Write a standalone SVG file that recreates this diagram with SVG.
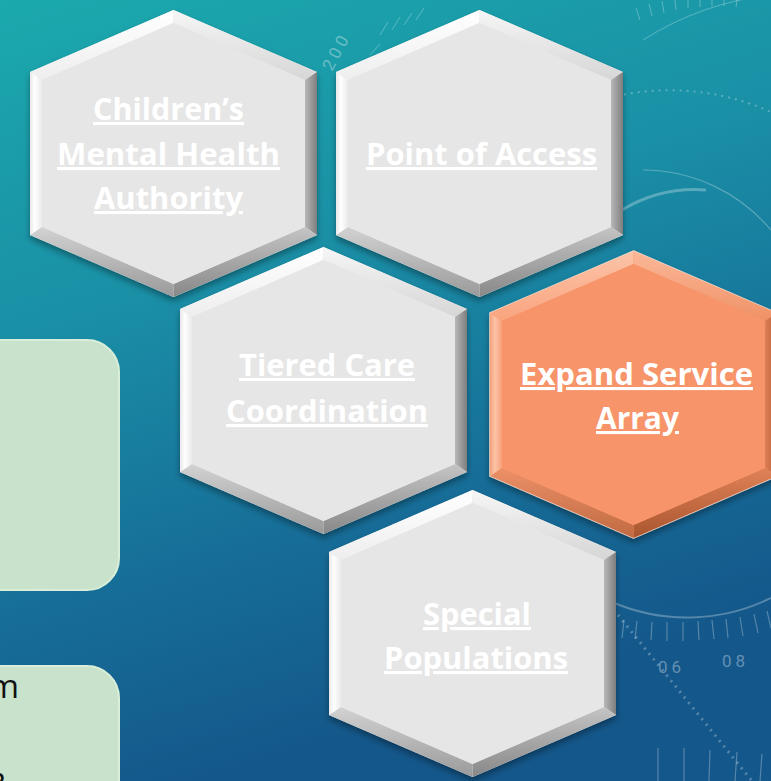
<svg xmlns="http://www.w3.org/2000/svg" xmlns:xlink="http://www.w3.org/1999/xlink" width="771" height="781" viewBox="0 0 771 781">
  <defs>
    <linearGradient id="bg" x1="0" y1="0" x2="0.3" y2="1">
      <stop offset="0" stop-color="#1ba9ad"/>
      <stop offset="0.4" stop-color="#1a8fa6"/>
      <stop offset="0.75" stop-color="#166c97"/>
      <stop offset="1" stop-color="#14578a"/>
    </linearGradient>
    <linearGradient id="gTL" x1="0" y1="0" x2="0" y2="1"><stop offset="0" stop-color="#ffffff"/><stop offset="1" stop-color="#eeeeee"/></linearGradient>
    <linearGradient id="gTR" x1="0" y1="0" x2="0" y2="1"><stop offset="0" stop-color="#f6f6f6"/><stop offset="1" stop-color="#d6d6d6"/></linearGradient>
    <linearGradient id="gR" x1="1" y1="0" x2="0" y2="0"><stop offset="0" stop-color="#7e7e7e"/><stop offset="1" stop-color="#b8b8b8"/></linearGradient>
    <linearGradient id="gBR" x1="0" y1="0" x2="0" y2="1"><stop offset="0" stop-color="#c4c4c4"/><stop offset="1" stop-color="#888888"/></linearGradient>
    <linearGradient id="gBL" x1="0" y1="0" x2="0" y2="1"><stop offset="0" stop-color="#d2d2d2"/><stop offset="1" stop-color="#9a9a9a"/></linearGradient>
    <linearGradient id="gL" x1="0" y1="0" x2="1" y2="0"><stop offset="0" stop-color="#e8e8e8"/><stop offset="0.4" stop-color="#ffffff"/><stop offset="1" stop-color="#eaeaea"/></linearGradient>

    <linearGradient id="oTL" x1="0" y1="0" x2="0" y2="1"><stop offset="0" stop-color="#fcc4a8"/><stop offset="1" stop-color="#f9a47e"/></linearGradient>
    <linearGradient id="oTR" x1="0" y1="0" x2="0" y2="1"><stop offset="0" stop-color="#fbb898"/><stop offset="1" stop-color="#ef9166"/></linearGradient>
    <linearGradient id="oR" x1="1" y1="0" x2="0" y2="0"><stop offset="0" stop-color="#b45c34"/><stop offset="1" stop-color="#de8058"/></linearGradient>
    <linearGradient id="oBR" x1="0" y1="0" x2="0" y2="1"><stop offset="0" stop-color="#e08258"/><stop offset="1" stop-color="#a9552f"/></linearGradient>
    <linearGradient id="oBL" x1="0" y1="0" x2="0" y2="1"><stop offset="0" stop-color="#ec9068"/><stop offset="1" stop-color="#c06a42"/></linearGradient>
    <linearGradient id="oL" x1="0" y1="0" x2="1" y2="0"><stop offset="0" stop-color="#f4a07a"/><stop offset="0.4" stop-color="#fcc3a6"/><stop offset="1" stop-color="#f7a07a"/></linearGradient>

    <filter id="shadow" x="-10%" y="-10%" width="120%" height="125%">
      <feDropShadow dx="0" dy="4" stdDeviation="3" flood-color="#000" flood-opacity="0.35"/>
    </filter>

    <g id="hexGray">
      <polygon points="0,0 143.5,62 143.5,225 0,287 -143.5,225 -143.5,62" fill="#e6e6e6"/>
      <polygon points="-143.5,62 0,0 0,13 -131.5,69.9" fill="url(#gTL)"/>
      <polygon points="0,0 143.5,62 131.5,69.9 0,13" fill="url(#gTR)"/>
      <polygon points="143.5,62 143.5,225 131.5,217.1 131.5,69.9" fill="url(#gR)"/>
      <polygon points="143.5,225 0,287 0,274 131.5,217.1" fill="url(#gBR)"/>
      <polygon points="0,287 -143.5,225 -131.5,217.1 0,274" fill="url(#gBL)"/>
      <polygon points="-143.5,225 -143.5,62 -131.5,69.9 -131.5,217.1" fill="url(#gL)"/>
      <polygon points="0,13 131.5,69.9 131.5,217.1 0,274 -131.5,217.1 -131.5,69.9" fill="#e6e6e6"/>
    </g>
    <g id="hexOrange">
      <polygon points="0,0 143.5,62 143.5,225 0,287 -143.5,225 -143.5,62" fill="#f7946a" stroke="#f6d8c8" stroke-width="1.5"/>
      <polygon points="-143.5,62 0,0 0,13 -131.5,69.9" fill="url(#oTL)"/>
      <polygon points="0,0 143.5,62 131.5,69.9 0,13" fill="url(#oTR)"/>
      <polygon points="143.5,62 143.5,225 131.5,217.1 131.5,69.9" fill="url(#oR)"/>
      <polygon points="143.5,225 0,287 0,274 131.5,217.1" fill="url(#oBR)"/>
      <polygon points="0,287 -143.5,225 -131.5,217.1 0,274" fill="url(#oBL)"/>
      <polygon points="-143.5,225 -143.5,62 -131.5,69.9 -131.5,217.1" fill="url(#oL)"/>
      <polygon points="0,13 131.5,69.9 131.5,217.1 0,274 -131.5,217.1 -131.5,69.9" fill="#f7946a"/>
    </g>
  </defs>
  <style>
    .lbl { font-family: "Open Sans", "Noto Sans", "Liberation Sans", sans-serif; font-weight: 700; font-size: 31px; fill: #ffffff; text-anchor: middle; text-decoration: underline; font-variant-ligatures: none; }
    .deco { fill: none; stroke: #ffffff; stroke-opacity: 0.28; }
    .num { font-family: Roboto, "Liberation Sans", sans-serif; font-size: 17px; fill: #ffffff; fill-opacity: 0.35; letter-spacing: 4px; }
    .box { fill: #c9e2cc; stroke: #d9eed8; stroke-width: 2; }
    .body { font-family: "Open Sans", "Liberation Sans", sans-serif; font-size: 33px; fill: #111111; }
  </style>

  <rect width="771" height="781" fill="url(#bg)"/>

  <g id="background-decoration">
    <path class="deco" d="M 617 96 A 246 246 0 0 1 771 112" stroke-width="2" stroke-dasharray="2 5"/>
    <path class="deco" d="M 643 170 A 168 168 0 0 1 771 230" stroke-width="1.2"/>
    <path class="deco" d="M 622 210 A 142 142 0 0 1 706 190" stroke-width="3"/>
    <path class="deco" d="M 643 40 A 300 300 0 0 1 771 -5" stroke-width="1"/>
    <g class="deco" stroke-width="1">
      <line x1="640" y1="20" x2="636" y2="8"/><line x1="652" y1="16" x2="649" y2="4"/><line x1="664" y1="13" x2="662" y2="1"/>
      <line x1="676" y1="10" x2="675" y2="0"/><line x1="688" y1="8" x2="688" y2="0"/><line x1="700" y1="7" x2="700" y2="0"/>
      <line x1="712" y1="6" x2="712" y2="0"/><line x1="724" y1="6" x2="724" y2="0"/><line x1="736" y1="7" x2="737" y2="0"/>
      <line x1="380" y1="35" x2="388" y2="22"/><line x1="392" y1="30" x2="400" y2="17"/><line x1="404" y1="25" x2="412" y2="13"/>
      <line x1="416" y1="20" x2="424" y2="8"/><line x1="370" y1="55" x2="380" y2="44"/>
    </g>
    <text class="num" transform="translate(332,72) rotate(-62)">200</text>
    <path class="deco" d="M 612 602 A 190 190 0 0 0 771 598" stroke-width="2"/>
    <g class="deco" stroke-width="1.2">
      <line x1="624" y1="620" x2="622" y2="638"/><line x1="637" y1="621" x2="635" y2="639"/><line x1="652" y1="622" x2="651" y2="640"/>
      <line x1="667" y1="622" x2="667" y2="641"/><line x1="683" y1="622" x2="683" y2="641"/><line x1="698" y1="621" x2="699" y2="640"/>
      <line x1="712" y1="620" x2="714" y2="639"/><line x1="726" y1="619" x2="728" y2="638"/><line x1="740" y1="617" x2="743" y2="636"/>
      <line x1="754" y1="614" x2="758" y2="633"/><line x1="767" y1="611" x2="771" y2="628"/>
      <line x1="658" y1="748" x2="658" y2="781"/><line x1="684" y1="748" x2="684" y2="781"/><line x1="710" y1="750" x2="709" y2="781"/>
      <line x1="737" y1="752" x2="735" y2="781"/><line x1="762" y1="754" x2="760" y2="781"/>
    </g>
    <path class="deco" d="M 618 615 L 752 781" stroke-width="3" stroke-dasharray="2 5"/>
    <text class="num" x="658" y="673">06</text>
    <text class="num" x="722" y="667">08</text>
  </g>

  <g id="left-boxes">
    <rect class="box" x="-40" y="340" width="159" height="250" rx="32"/>
    <rect class="box" x="-40" y="666" width="159" height="160" rx="32"/>
    <text class="body" x="19" y="698" text-anchor="end">m</text>
    <text class="body" x="12" y="797" text-anchor="end">&amp;</text>
  </g>

  <g id="connectors"></g>

  <g id="node-childrens-mental-health-authority">
    <use xlink:href="#hexGray" href="#hexGray" x="173.5" y="10" filter="url(#shadow)"/>
    <text class="lbl" x="168.5" y="120" textLength="151" lengthAdjust="spacingAndGlyphs">Children’s</text>
    <text class="lbl" x="168.5" y="165" textLength="223" lengthAdjust="spacingAndGlyphs">Mental Health</text>
    <text class="lbl" x="168.5" y="209" textLength="149" lengthAdjust="spacingAndGlyphs">Authority</text>
  </g>

  <g id="node-point-of-access">
    <use xlink:href="#hexGray" href="#hexGray" x="479.5" y="10" filter="url(#shadow)"/>
    <text class="lbl" x="481.5" y="165" textLength="231" lengthAdjust="spacingAndGlyphs">Point of Access</text>
  </g>

  <g id="node-tiered-care-coordination">
    <use xlink:href="#hexGray" href="#hexGray" x="323.5" y="247" filter="url(#shadow)"/>
    <text class="lbl" x="327" y="376" textLength="176" lengthAdjust="spacingAndGlyphs">Tiered Care</text>
    <text class="lbl" x="327" y="422" textLength="202" lengthAdjust="spacingAndGlyphs">Coordination</text>
  </g>

  <g id="node-expand-service-array">
    <use xlink:href="#hexOrange" href="#hexOrange" x="633.5" y="251" filter="url(#shadow)"/>
    <text class="lbl" x="636.5" y="385" textLength="233" lengthAdjust="spacingAndGlyphs">Expand Service</text>
    <text class="lbl" x="637.5" y="429" textLength="83" lengthAdjust="spacingAndGlyphs">Array</text>
  </g>

  <g id="node-special-populations">
    <use xlink:href="#hexGray" href="#hexGray" x="472.5" y="490" filter="url(#shadow)"/>
    <text class="lbl" x="477" y="625" textLength="108" lengthAdjust="spacingAndGlyphs">Special</text>
    <text class="lbl" x="476" y="669" textLength="184" lengthAdjust="spacingAndGlyphs">Populations</text>
  </g>
</svg>
